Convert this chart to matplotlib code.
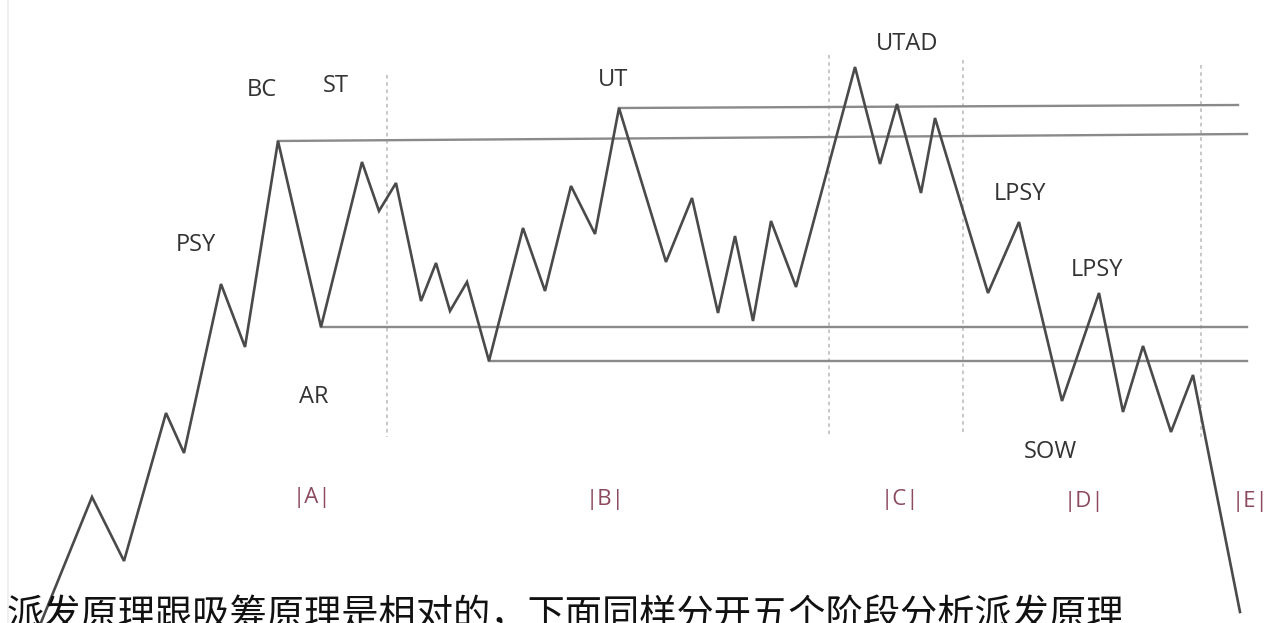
import matplotlib
matplotlib.use("Agg")
import matplotlib.pyplot as plt

plt.rcParams['font.family'] = ['Open Sans', 'Noto Sans CJK SC', 'DejaVu Sans']

# Price path (time position, price level as drawn)
path_t = [40, 92, 124, 166, 184, 221, 245, 278, 321, 362, 379, 396, 421, 436, 450, 467,
          489, 523, 545, 571, 595, 619, 666, 692, 718, 735, 753, 771, 796, 855, 880, 897,
          921, 935, 988, 1019, 1062, 1099, 1123, 1143, 1171, 1193, 1240]
path_p = [625, 497, 561, 413, 453, 284, 347, 141, 327, 162, 211, 183, 301, 263, 311, 282,
          361, 228, 291, 186, 234, 108, 262, 198, 313, 236, 321, 221, 287, 67, 164, 104,
          193, 118, 293, 222, 401, 293, 412, 346, 432, 375, 612]

# Horizontal reference levels: (start t, end t, start level, end level)
level_start_t = [278, 619, 321, 489]
level_end_t = [1247, 1238, 1247, 1247]
level_start_p = [141, 108, 327, 361]
level_end_p = [134, 105, 327, 361]

# Phase separators
phase_sep_t = [387, 829, 963, 1201]
phase_sep_top = [75, 55, 60, 65]
phase_sep_bottom = [437, 437, 432, 440]

# Event labels
event_labels = ['PSY', 'BC', 'ST', 'AR', 'UT', 'UTAD', 'LPSY', 'LPSY', 'SOW']
event_t = [196, 262, 336, 314, 613, 907, 1020, 1097, 1050]
event_p = [245, 90, 86, 397, 80, 44, 194, 270, 452]

# Phase labels
phase_labels = ['|A|', '|B|', '|C|', '|D|', '|E|']
phase_t = [312, 605, 900, 1084, 1250]
phase_p = [498, 500, 500, 502, 502]

caption = '派发原理跟吸筹原理是相对的，下面同样分开五个阶段分析派发原理'

fig = plt.figure(figsize=(12.83, 6.23), dpi=100)
ax = fig.add_axes([0, 0, 1, 1])
ax.set_xlim(0, 1283)
ax.set_ylim(623, 0)
ax.axis('off')
fig.patch.set_facecolor('white')

# faint left border
ax.plot([8, 8], [0, 623], color='#ececec', lw=1.2)

for t, top, bot in zip(phase_sep_t, phase_sep_top, phase_sep_bottom):
    ax.plot([t, t], [top, bot], color='#c4c4c4', lw=1.3, ls=(0, (2, 2)))

for t0, t1, p0, p1 in zip(level_start_t, level_end_t, level_start_p, level_end_p):
    ax.plot([t0, t1], [p0, p1], color='#8a8a8a', lw=1.7)

ax.plot(path_t, path_p, color='#4a4a4a', lw=1.9, solid_joinstyle='miter')

for s, t, p in zip(event_labels, event_t, event_p):
    ax.text(t, p, s, fontsize=17, color='#333333', ha='center', va='center')

for s, t, p in zip(phase_labels, phase_t, phase_p):
    ax.text(t, p, s, fontsize=16, color='#8c4a5e', ha='center', va='center')

ax.text(7, 596, caption, fontsize=26.8, color='#111111', ha='left', va='top',
        family=['Noto Sans CJK SC', 'DejaVu Sans'])

fig.savefig('out.png', dpi=100, facecolor='white')
